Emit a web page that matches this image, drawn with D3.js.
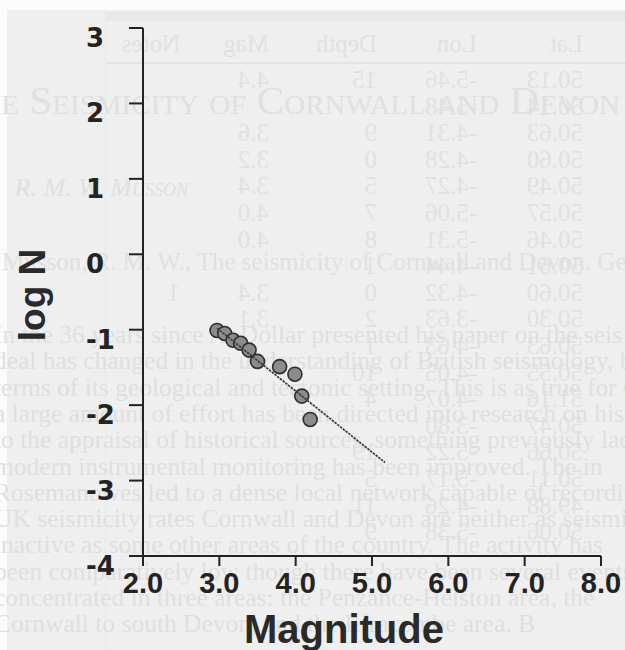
<!DOCTYPE html>
<html><head><meta charset="utf-8">
<script src="https://cdn.jsdelivr.net/npm/d3@7"></script>
<style>
html,body{margin:0;padding:0;background:#fff;}
svg{display:block;}
</style></head><body>
<script>
// ---- chart data ----
const magnitudes = [2.97, 3.07, 3.18, 3.28, 3.39, 3.50, 3.79, 3.99, 4.08, 4.19];
const logN       = [-1.01, -1.05, -1.14, -1.18, -1.27, -1.42, -1.49, -1.59, -1.88, -2.19];
const fitX = [2.97, 5.17];
const fitY = [-0.98, -2.76];
const xTicks = [2, 3, 4, 5, 6, 7, 8];
const yTicks = [3, 2, 1, 0, -1, -2, -3, -4];
const xTitle = "Magnitude";
const yTitle = "log N";

// ---- faint show-through text of the scanned page ----
const tableHeader = ["Lat", "Lon", "Depth", "Mag", "Notes"];
const tableRows = [
  ["50.13","-5.46","15","4.4",""],
  ["50.14","-5.48","","",""],
  ["50.63","-4.31","9","3.6",""],
  ["50.60","-4.28","0","3.2",""],
  ["50.49","-4.27","5","3.4",""],
  ["50.57","-5.06","7","4.0",""],
  ["50.46","-5.31","8","4.0",""],
  ["50.61","-4.44","1","",""],
  ["50.60","-4.32","0","3.4","1"],
  ["50.30","-3.63","2","3.1",""],
  ["50.63","-4.63","1","",""],
  ["50.55","-4.05","10","",""],
  ["51.16","-4.07","4","",""],
  ["50.47","-3.80","","",""],
  ["50.66","-5.22","19","",""],
  ["50.11","-5.17","5","",""],
  ["49.88","-4.26","11","",""],
  ["50.06","-5.38","9","",""]
];
const pageHeading = "The Seismicity of Cornwall and Devon";
const pageAuthor = "R. M. W. Musson";
const pageCitation = "Musson, R. M. W., The seismicity of Cornwall and Devon. Geoscience in south-west England";
const paragraphLines = [
  "In the 36 years since A. Dollar presented his paper on the seis",
  "deal has changed in the understanding of British seismology, bot",
  "terms of its geological and tectonic setting. This is as true for Co",
  "a large amount of effort has been directed into research on his",
  "to the appraisal of historical sources, something previously lac",
  "modern instrumental monitoring has been improved. The in",
  "Rosemanowes led to a dense local network capable of recordin",
  "UK seismicity rates Cornwall and Devon are neither as seismic",
  "inactive as some other areas of the country. The activity has",
  "been comparatively low though there have been several events",
  "concentrated in three areas: the Penzance-Helston area, the",
  "Cornwall to south Devon, and the Ilfracombe area. B"
];

const W = 625, H = 650;
const svg = d3.select("body").append("svg").attr("width", W).attr("height", H);

// paper background
svg.append("rect").attr("width", W).attr("height", H).attr("fill", "#fbfbfb");
svg.append("rect").attr("x", 7).attr("y", 10).attr("width", W - 7).attr("height", H - 10).attr("fill", "#efefef");

// ghost layer
const ghost = svg.append("g").attr("font-family", "'Liberation Serif', serif");
ghost.append("rect").attr("x", 105).attr("y", 12).attr("width", W - 105).attr("height", 9).attr("fill", "#e8e8e8");
ghost.append("line").attr("x1", 105).attr("x2", W).attr("y1", 63).attr("y2", 63).attr("stroke", "#e4e4e4").attr("stroke-width", 2);
ghost.append("line").attr("x1", 105.5).attr("x2", 105.5).attr("y1", 10).attr("y2", H).attr("stroke", "#e9e9e9").attr("stroke-width", 1);

const mirror = ghost.append("g").attr("transform", `translate(${W},0) scale(-1,1)`)
  .attr("fill", "#e1e1e1").attr("font-size", 25);
const colX = [42, 148, 248, 356, 445];
mirror.selectAll("text.h").data(tableHeader).join("text").attr("class", "h")
  .attr("x", (d, i) => colX[i]).attr("y", 52).text(d => d);
tableRows.forEach((row, r) => {
  mirror.selectAll(null).data(row).join("text")
    .attr("x", (d, i) => colX[i]).attr("y", 88 + r * 26.6).text(d => d);
});

ghost.append("text").attr("x", -45).attr("y", 114)
  .attr("font-size", 40).attr("font-variant", "small-caps").attr("fill", "#e0e0e0")
  .attr("textLength", 665).attr("lengthAdjust", "spacingAndGlyphs").text(pageHeading);
ghost.append("text").attr("x", 188).attr("y", 196).attr("text-anchor", "end")
  .attr("font-size", 26).attr("font-style", "italic").attr("font-variant", "small-caps")
  .attr("fill", "#e0e0e0").text(pageAuthor);
ghost.append("text").attr("x", 2).attr("y", 270).attr("font-size", 25)
  .attr("fill", "#e0e0e0").text(pageCitation);
ghost.selectAll("text.p").data(paragraphLines).join("text").attr("class", "p")
  .attr("x", -6).attr("y", (d, i) => 343 + i * 26.3).attr("font-size", 25.5)
  .attr("fill", "#dfdfdf").text(d => d);

// ---- chart ----
const x = d3.scaleLinear().domain([2, 8]).range([143, 601]);
const y = d3.scaleLinear().domain([-4, 3]).range([556, 28]);
const ink = "#232323";

const gy = svg.append("g").attr("transform", "translate(143,0)")
  .call(d3.axisLeft(y).tickValues(yTicks).tickSize(14).tickSizeOuter(0).offset(0)
    .tickFormat(d => String(d)));
gy.attr("font-family", "'DejaVu Sans', sans-serif").attr("font-size", 26).attr("font-weight", "bold");
gy.selectAll("path.domain, .tick line").attr("stroke", ink).attr("stroke-width", 2);
gy.selectAll(".tick text").attr("x", 86 - 143).attr("dy", "0.73em")
  .attr("text-anchor", "start").attr("fill", ink);

const gx = svg.append("g").attr("transform", "translate(0,556)")
  .call(d3.axisBottom(x).tickValues(xTicks).tickSize(10).tickSizeOuter(0).tickPadding(6).offset(0)
    .tickFormat(d => d.toFixed(1)));
gx.attr("font-family", "'Liberation Sans', Arial, sans-serif").attr("font-size", 29).attr("font-weight", "bold");
gx.selectAll("path.domain, .tick line").attr("stroke", ink).attr("stroke-width", 2);
gx.selectAll(".tick text").attr("fill", ink);
gx.select("path.domain").attr("d", `M${x(2) - 14},0H${x(8)}`);

svg.append("text").attr("x", 344).attr("y", 643).attr("text-anchor", "middle")
  .attr("font-family", "'Liberation Sans', Arial, sans-serif").attr("font-weight", "bold")
  .attr("font-size", 40).attr("fill", "#2a2a2a").text(xTitle);
svg.append("text").attr("transform", "translate(45,295) rotate(-90)").attr("text-anchor", "middle")
  .attr("font-family", "'Liberation Sans', Arial, sans-serif").attr("font-weight", "bold")
  .attr("font-size", 37).attr("fill", "#2a2a2a").text(yTitle);

const pts = magnitudes.map((m, i) => ({ m, n: logN[i] }));
svg.append("g").selectAll("circle").data(pts).join("circle")
  .attr("cx", d => x(d.m)).attr("cy", d => y(d.n)).attr("r", 7)
  .attr("fill", "#8c8c8c").attr("stroke", "#2e2e2e").attr("stroke-width", 1.6);

const fit = fitX.map((v, i) => [v, fitY[i]]);
svg.append("path").datum(fit)
  .attr("d", d3.line().x(d => x(d[0])).y(d => y(d[1])))
  .attr("fill", "none").attr("stroke", "#3a3a3a").attr("stroke-width", 1.7)
  .attr("stroke-dasharray", "2.5,1");
</script>
</body></html>
